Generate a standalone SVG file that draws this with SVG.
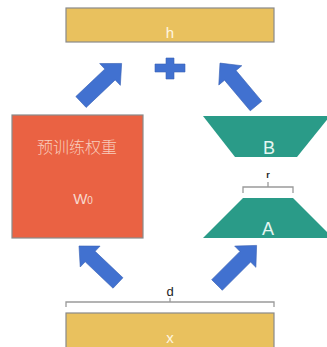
<svg xmlns="http://www.w3.org/2000/svg" xmlns:xlink="http://www.w3.org/1999/xlink" width="327" height="347" viewBox="0 0 327 347">
<defs>
<style>
.bar{fill:#E9C15E;stroke:#8a8a8a;stroke-width:1.2}
.red{fill:#EA6243;stroke:#8a8a8a;stroke-width:1.2}
.teal{fill:#2A9B88}
.arr{fill:#4171D0;stroke:#3a62b5;stroke-width:0.6}
.brk{fill:none;stroke:#9a9a9a;stroke-width:1.3}
.lt{font-family:"Liberation Sans",Arial,sans-serif;text-anchor:middle}
</style>
<path id="arrow" d="M0,-7.5 L40,-7.5 L40,-15 L56,0 L40,15 L40,7.5 L0,7.5 Z"/>
</defs>
<rect width="327" height="347" fill="#ffffff"/>
<g id="connectors">
<use href="#arrow" class="arr" transform="translate(81,102) rotate(-43.5)"/>
<use href="#arrow" class="arr" transform="translate(256,106) rotate(-130)"/>
<use href="#arrow" class="arr" transform="translate(118,283) rotate(-136.5) scale(0.96)"/>
<use href="#arrow" class="arr" transform="translate(217,285) rotate(-45)"/>
<path class="arr" d="M166,58 H174 V64 H185 V72 H174 V79 H166 V72 H155 V64 H166 Z"/>
</g>
<g id="h">
<rect class="bar" x="66" y="8" width="208" height="34"/>
<text class="lt" x="170" y="38" font-size="15" fill="#FFF6E0">h</text>
</g>
<g id="w0">
<rect class="red" x="12" y="115" width="131" height="123"/>
<text x="77" y="153" font-family="'Noto Sans CJK SC',sans-serif" font-size="16" font-weight="300" fill="#F8CDBD" text-anchor="middle">预训练权重</text>
<text class="lt" x="83" y="204" font-size="15" fill="#F8D8CC">W<tspan font-size="10">0</tspan></text>
</g>
<g id="B">
<polygon class="teal" points="203,116 330,116 297,157 235,157"/>
<text class="lt" x="269" y="154" font-size="18" fill="#E6F6F2">B</text>
</g>
<g id="r">
<path class="brk" d="M243,193 V187 H293 V193 M268,187 V182"/>
<text class="lt" x="268" y="178" font-size="9" font-weight="bold" fill="#222">r</text>
</g>
<g id="A">
<polygon class="teal" points="243,198 293,198 333,238 203,238"/>
<text class="lt" x="268" y="235" font-size="18" fill="#E6F6F2">A</text>
</g>
<g id="d">
<path class="brk" d="M66,307 V302 H274 V307 M170,302 V298"/>
<text class="lt" x="170" y="296" font-size="13" fill="#222">d</text>
</g>
<g id="x">
<rect class="bar" x="66" y="313" width="208" height="40"/>
<text class="lt" x="170" y="343" font-size="15" fill="#FFF6E0">x</text>
</g>
</svg>
